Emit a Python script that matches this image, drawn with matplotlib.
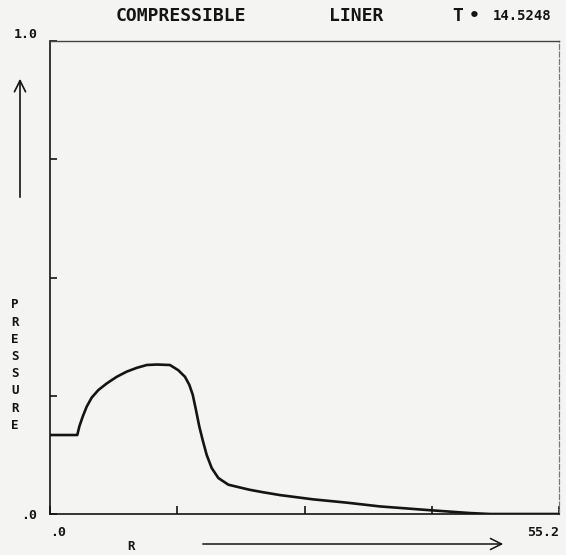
import numpy as np
import matplotlib.pyplot as plt

# pressure profile along the radius
r = [0.0, 2.96, 3.18, 3.55, 3.98, 4.52, 5.24, 6.15, 7.23, 8.32, 9.41,
     10.49, 11.58, 13.01, 13.91, 14.64, 15.11, 15.48, 15.83, 16.19, 16.56,
     16.99, 17.54, 18.26, 19.34, 20.61, 21.70, 23.10, 24.94, 28.52, 32.18,
     35.79, 41.21, 45.55, 47.7, 55.2]
pressure = [0.167, 0.167, 0.185, 0.206, 0.227, 0.246, 0.262, 0.276, 0.290,
            0.301, 0.309, 0.315, 0.316, 0.315, 0.304, 0.290, 0.273, 0.252,
            0.220, 0.185, 0.156, 0.125, 0.097, 0.076, 0.062, 0.056, 0.051,
            0.046, 0.040, 0.031, 0.024, 0.016, 0.008, 0.002, 0.0, 0.0]

r_max = 55.2
x_ticks = [0, 13.8, 27.6, 41.4, 55.2]
y_ticks = [0, 0.25, 0.5, 0.75, 1.0]
y_tick_labels = ['.0', '', '', '', '1.0']

title_words = ['COMPRESSIBLE', 'LINER', 'T', '\u2022', '14.5248']
title_x = [181, 356, 458, 474, 522]  # word centres, pixels

bg = '#f4f4f2'
ink = '#141414'
mono = {'family': 'DejaVu Sans Mono', 'weight': 'bold'}

W, H = 566, 555
fig = plt.figure(figsize=(W / 100, H / 100), dpi=100, facecolor=bg)
ax = fig.add_axes([50 / W, (H - 514) / H, 509 / W, 473 / H], facecolor=bg)

ax.plot(r, pressure, color=ink, linewidth=1.9, solid_joinstyle='round')

ax.set_xlim(0, r_max)
ax.set_ylim(0, 1.0)

for side in ['left', 'bottom']:
    ax.spines[side].set_color(ink)
    ax.spines[side].set_linewidth(1.2)
ax.spines['top'].set_color('#444444')
ax.spines['top'].set_linewidth(1.0)
ax.spines['right'].set_color('#777777')
ax.spines['right'].set_linewidth(0.9)
ax.spines['right'].set_linestyle((0, (4, 2)))

ax.set_xticks(x_ticks)
ax.set_xticklabels([])
ax.set_yticks(y_ticks)
ax.set_yticklabels(y_tick_labels, fontdict=mono, fontsize=9.5)
ax.tick_params(axis='x', direction='in', length=6, width=1.2, color=ink)
ax.tick_params(axis='y', direction='in', length=5, width=1.2, color=ink,
               pad=9, labelcolor=ink)
ax.get_yticklabels()[-1].set_va('bottom')

# axis end labels under the R axis
ax.text(0.0, -0.025, '.0', transform=ax.transAxes, ha='left', va='top',
        fontdict=mono, fontsize=9.5, color=ink)
ax.text(1.0, -0.025, '55.2', transform=ax.transAxes, ha='right', va='top',
        fontdict=mono, fontsize=9.5, color=ink)

# title, word by word like the plotter lettering
for word, px in zip(title_words, title_x):
    fig.text(px / W, 1 - 16 / H, word, ha='center', va='center',
             fontdict=mono, fontsize=13 if word != '14.5248' else 10,
             color=ink)

# stacked PRESSURE label and direction arrows
fig.text(15 / W, 1 - 365 / H, '\n'.join('PRESSURE'), ha='center',
         va='center', fontdict=mono, fontsize=9, linespacing=1.42, color=ink)
fig.text(131 / W, 1 - 546 / H, 'R', ha='center', va='center',
         fontdict=mono, fontsize=9, color=ink)

fig.patches.append(plt.matplotlib.patches.FancyArrowPatch(
    (20 / W, 1 - 200 / H), (20 / W, 1 - 76 / H), transform=fig.transFigure,
    arrowstyle='->,head_length=8,head_width=4', color=ink, linewidth=1.2))
fig.patches.append(plt.matplotlib.patches.FancyArrowPatch(
    (200 / W, 1 - 544 / H), (506 / W, 1 - 544 / H), transform=fig.transFigure,
    arrowstyle='->,head_length=8,head_width=4', color=ink, linewidth=1.1))

fig.savefig('out.png', dpi=100, facecolor=bg)
